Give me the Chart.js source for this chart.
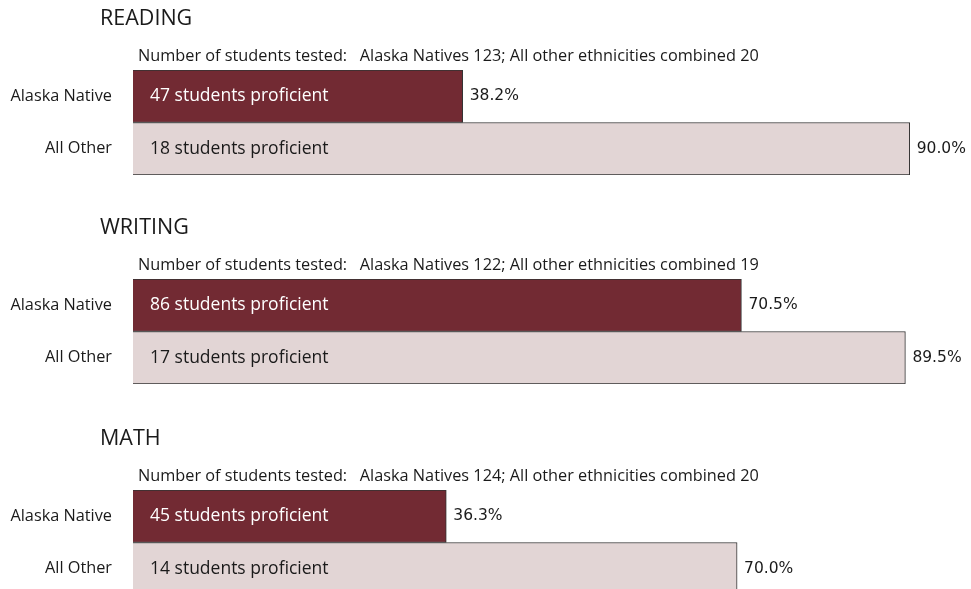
<!DOCTYPE html>
<html>
<head>
<meta charset="utf-8">
<title>Students proficient by subject</title>
<script src="https://cdn.jsdelivr.net/npm/chart.js@4.4.1/dist/chart.umd.min.js"></script>
<style>
    html, body { margin: 0; padding: 0; background: #fff; }
    body { width: 971px; height: 589px; overflow: hidden; position: relative; }
    .panel { position: absolute; left: 0; width: 996px; height: 210px; }
</style>
</head>
<body>
<div class="panel" style="top:0px"><canvas id="chart0"></canvas></div>
<div class="panel" style="top:209px"><canvas id="chart1"></canvas></div>
<div class="panel" style="top:420px"><canvas id="chart2"></canvas></div>
<script>
// ---- data ----
const subjects = ['READING', 'WRITING', 'MATH'];
const groups = ['Alaska Native', 'All Other'];
const nativeTested = [123, 122, 124];
const otherTested = [20, 19, 20];
const nativeProficient = [47, 86, 45];
const otherProficient = [18, 17, 14];
const nativePct = [38.2, 70.5, 36.3];
const otherPct = [90.0, 89.5, 70.0];

const FONT = "'Open Sans', sans-serif";
const PCT_FONT = "'DejaVu Sans', sans-serif";
const TEXT = '#1a1a1a';
const DARK = '#722a33';
const LIGHT = '#e2d5d5';

// draws panel heading, tested counts, in-bar counts and percentage labels
const labelPlugin = {
    id: 'panelLabels',
    afterDatasetsDraw(chart) {
        const ctx = chart.ctx;
        const idx = chart.options.plugins.panelLabels.index;
        const bars = chart.getDatasetMeta(0).data;
        const counts = [nativeProficient[idx], otherProficient[idx]];
        const pcts = [nativePct[idx], otherPct[idx]];

        ctx.save();
        ctx.textBaseline = 'middle';
        ctx.textAlign = 'left';

        ctx.fillStyle = TEXT;
        ctx.font = '21.5px ' + FONT;
        ctx.fillText(subjects[idx], 100, 19);

        ctx.font = '16.3px ' + FONT;
        ctx.fillText('Number of students tested:   Alaska Natives ' + nativeTested[idx] +
            '; All other ethnicities combined ' + otherTested[idx], 138, 56);

        bars.forEach((bar, i) => {
            ctx.font = '17.5px ' + FONT;
            ctx.fillStyle = i === 0 ? '#ffffff' : TEXT;
            ctx.fillText(counts[i] + ' students proficient', bar.base + 17, bar.y);
            ctx.font = '15.5px ' + PCT_FONT;
            ctx.fillStyle = TEXT;
            ctx.fillText(pcts[i].toFixed(1) + '%', bar.x + 7, bar.y);
        });
        ctx.restore();
    }
};

function buildChart(idx) {
    new Chart(document.getElementById('chart' + idx), {
        type: 'bar',
        data: {
            labels: groups,
            datasets: [{
                data: [nativePct[idx], otherPct[idx]],
                backgroundColor: [DARK, LIGHT],
                borderColor: '#333333',
                borderWidth: 1,
                barPercentage: 1,
                categoryPercentage: 1
            }]
        },
        options: {
            indexAxis: 'y',
            responsive: true,
            maintainAspectRatio: false,
            animation: false,
            layout: { padding: { top: 70, bottom: 35, left: 0, right: 0 } },
            plugins: {
                legend: { display: false },
                tooltip: { enabled: false },
                panelLabels: { index: idx }
            },
            scales: {
                x: { min: 0, max: 100, display: false },
                y: {
                    border: { display: false },
                    grid: { display: false, drawTicks: false },
                    ticks: { color: TEXT, font: { family: FONT, size: 16.3 }, padding: 21 },
                    afterFit(scale) { scale.width = 133; }
                }
            }
        },
        plugins: [labelPlugin]
    });
}

subjects.forEach((s, i) => buildChart(i));
</script>
</body>
</html>
